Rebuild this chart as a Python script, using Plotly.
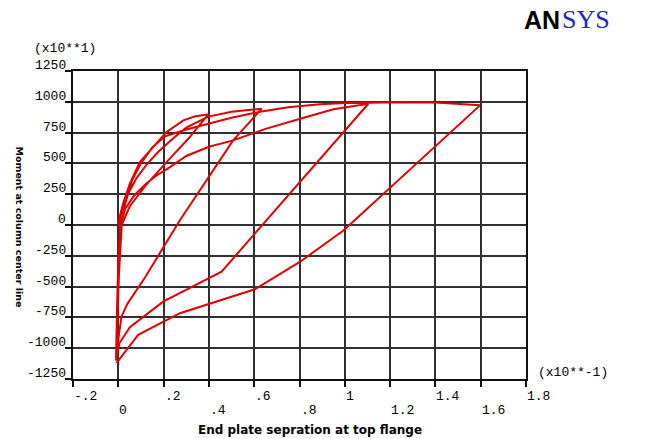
import plotly.graph_objects as go

# ---- data (end plate separation in x10**-1, moment in x10**1) ----
c1_load_x = [0.0, 0.008, 0.021, 0.051, 0.095, 0.154, 0.213, 0.287, 0.34, 0.397]
c1_load_y = [0, 80, 174, 336, 511, 633, 754, 849, 882, 898]
c1_unld_x = [0.309, 0.22, 0.12, 0.05, 0.015, 0.003, -0.005, -0.008]
c1_unld_y = [700, 525, 320, 150, 0, -400, -800, -1000]

c2_load_x = [-0.006, 0.0, 0.008, 0.022, 0.045, 0.08, 0.125, 0.18, 0.24, 0.3, 0.397, 0.5, 0.633]
c2_load_y = [-700, -300, 0, 130, 260, 380, 490, 600, 700, 790, 880, 920, 944]
c2_unld_x = [0.507, 0.272, 0.12, 0.04, 0.014, 0.002, -0.01]
c2_unld_y = [687, 39, -420, -640, -744, -900, -1080]

c3_load_x = [-0.008, -0.004, 0.0, 0.01, 0.03, 0.07, 0.12, 0.167, 0.228, 0.3, 0.4, 0.507, 0.65, 0.803, 0.95, 1.104]
c3_load_y = [-900, -600, -300, 0, 130, 240, 330, 400, 470, 560, 635, 687, 780, 862, 940, 984]
c3_unld_x = [0.655, 0.456, 0.198, 0.051, 0.005, -0.01]
c3_unld_y = [39, -379, -622, -830, -960, -1100]

c4_load_x = [-0.006, 0.0, 0.012, 0.03, 0.06, 0.1, 0.15, 0.206, 0.3, 0.405, 0.5, 0.626, 0.75, 0.891, 1.0, 1.104, 1.25, 1.4, 1.597]
c4_load_y = [-800, -400, 0, 170, 360, 500, 630, 720, 775, 822, 870, 920, 955, 980, 990, 993, 997, 995, 971]
c4_unld_x = [0.994, 0.803, 0.603, 0.272, 0.0875, -0.008]
c4_unld_y = [-45, -298, -522, -716, -892, -1121]

x_ticks = [-0.2, 0, 0.2, 0.4, 0.6, 0.8, 1.0, 1.2, 1.4, 1.6, 1.8]
x_tick_text = ["-.2", "0", ".2", ".4", ".6", ".8", "1", "1.2", "1.4", "1.6", "1.8"]
y_ticks = [1250, 1000, 750, 500, 250, 0, -250, -500, -750, -1000, -1250]
y_tick_text = ["1250", "1000", "750", "500", "250", "0", "-250", "-500", "-750", "-1000", "-1250"]

xs = (c1_load_x + c1_unld_x + c2_load_x + c2_unld_x +
      c3_load_x + c3_unld_x + c4_load_x + c4_unld_x)
ys = (c1_load_y + c1_unld_y + c2_load_y + c2_unld_y +
      c3_load_y + c3_unld_y + c4_load_y + c4_unld_y)

MONO = "Liberation Mono"
TSZ = 13
fig = go.Figure()
fig.add_trace(go.Scatter(x=xs, y=ys, mode="lines",
                         line=dict(color="#e00000", width=2), hoverinfo="skip"))

L, R, T, B = 73.3, 525.7, 70.5, 379.2
W, H = R - L, B - T


def px(x):
    return (x - L) / W


def py(y):
    return (B - y) / H


ann = []
for v, t in zip(y_ticks, y_tick_text):
    ann.append(dict(x=0, xref="paper", y=v, yref="y", text=t, showarrow=False,
                    xanchor="right", yanchor="bottom", xshift=-5, yshift=-4,
                    font=dict(family=MONO, size=TSZ, color="black")))
for i, (v, t) in enumerate(zip(x_ticks, x_tick_text)):
    row_y = py(397) if i % 2 == 0 else py(411)
    ann.append(dict(x=v, xref="x", y=row_y, yref="paper", text=t, showarrow=False,
                    xanchor="left", yanchor="middle", xshift=-1,
                    font=dict(family=MONO, size=TSZ, color="black")))
ann.append(dict(x=px(32), xref="paper", y=py(48), yref="paper", text="(x10**1)",
                showarrow=False, xanchor="left", yanchor="middle",
                font=dict(family=MONO, size=TSZ, color="black")))
ann.append(dict(x=px(536), xref="paper", y=py(373), yref="paper", text="(x10**-1)",
                showarrow=False, xanchor="left", yanchor="middle",
                font=dict(family=MONO, size=TSZ, color="black")))
ann.append(dict(x=px(310), xref="paper", y=py(430), yref="paper",
                text="<b>End plate sepration at top flange</b>", showarrow=False,
                xanchor="center", yanchor="middle",
                font=dict(family="DejaVu Sans", size=12, color="black")))
ann.append(dict(x=px(20), xref="paper", y=py(227), yref="paper",
                text="<b>Moment at column center line</b>", showarrow=False,
                textangle=90, xanchor="center", yanchor="middle",
                font=dict(family="DejaVu Sans", size=9.5, color="black")))
ann.append(dict(x=px(562), xref="paper", y=py(19), yref="paper", text="<b>AN</b>",
                showarrow=False, xanchor="right", yanchor="middle",
                font=dict(family="Liberation Sans", size=25, color="black")))
ann.append(dict(x=px(560), xref="paper", y=py(19), yref="paper", text="SYS",
                showarrow=False, xanchor="left", yanchor="middle",
                font=dict(family="Liberation Serif", size=26, color="#2424c8")))

grid = dict(showgrid=True, gridcolor="#303030", gridwidth=1.6, zeroline=False,
            showline=True, linecolor="#111", linewidth=2, mirror=True,
            ticks="outside", ticklen=6, tickcolor="#111", tickwidth=1.6,
            showticklabels=False)

fig.update_layout(
    width=646, height=439,
    margin=dict(l=L, r=646 - R, t=T, b=439 - B),
    paper_bgcolor="white", plot_bgcolor="white",
    showlegend=False,
    xaxis=dict(range=[-0.2, 1.8], tickvals=x_ticks, **grid),
    yaxis=dict(range=[-1250, 1250], tickvals=y_ticks, **grid),
    annotations=ann,
)
fig.write_html("out.html")
